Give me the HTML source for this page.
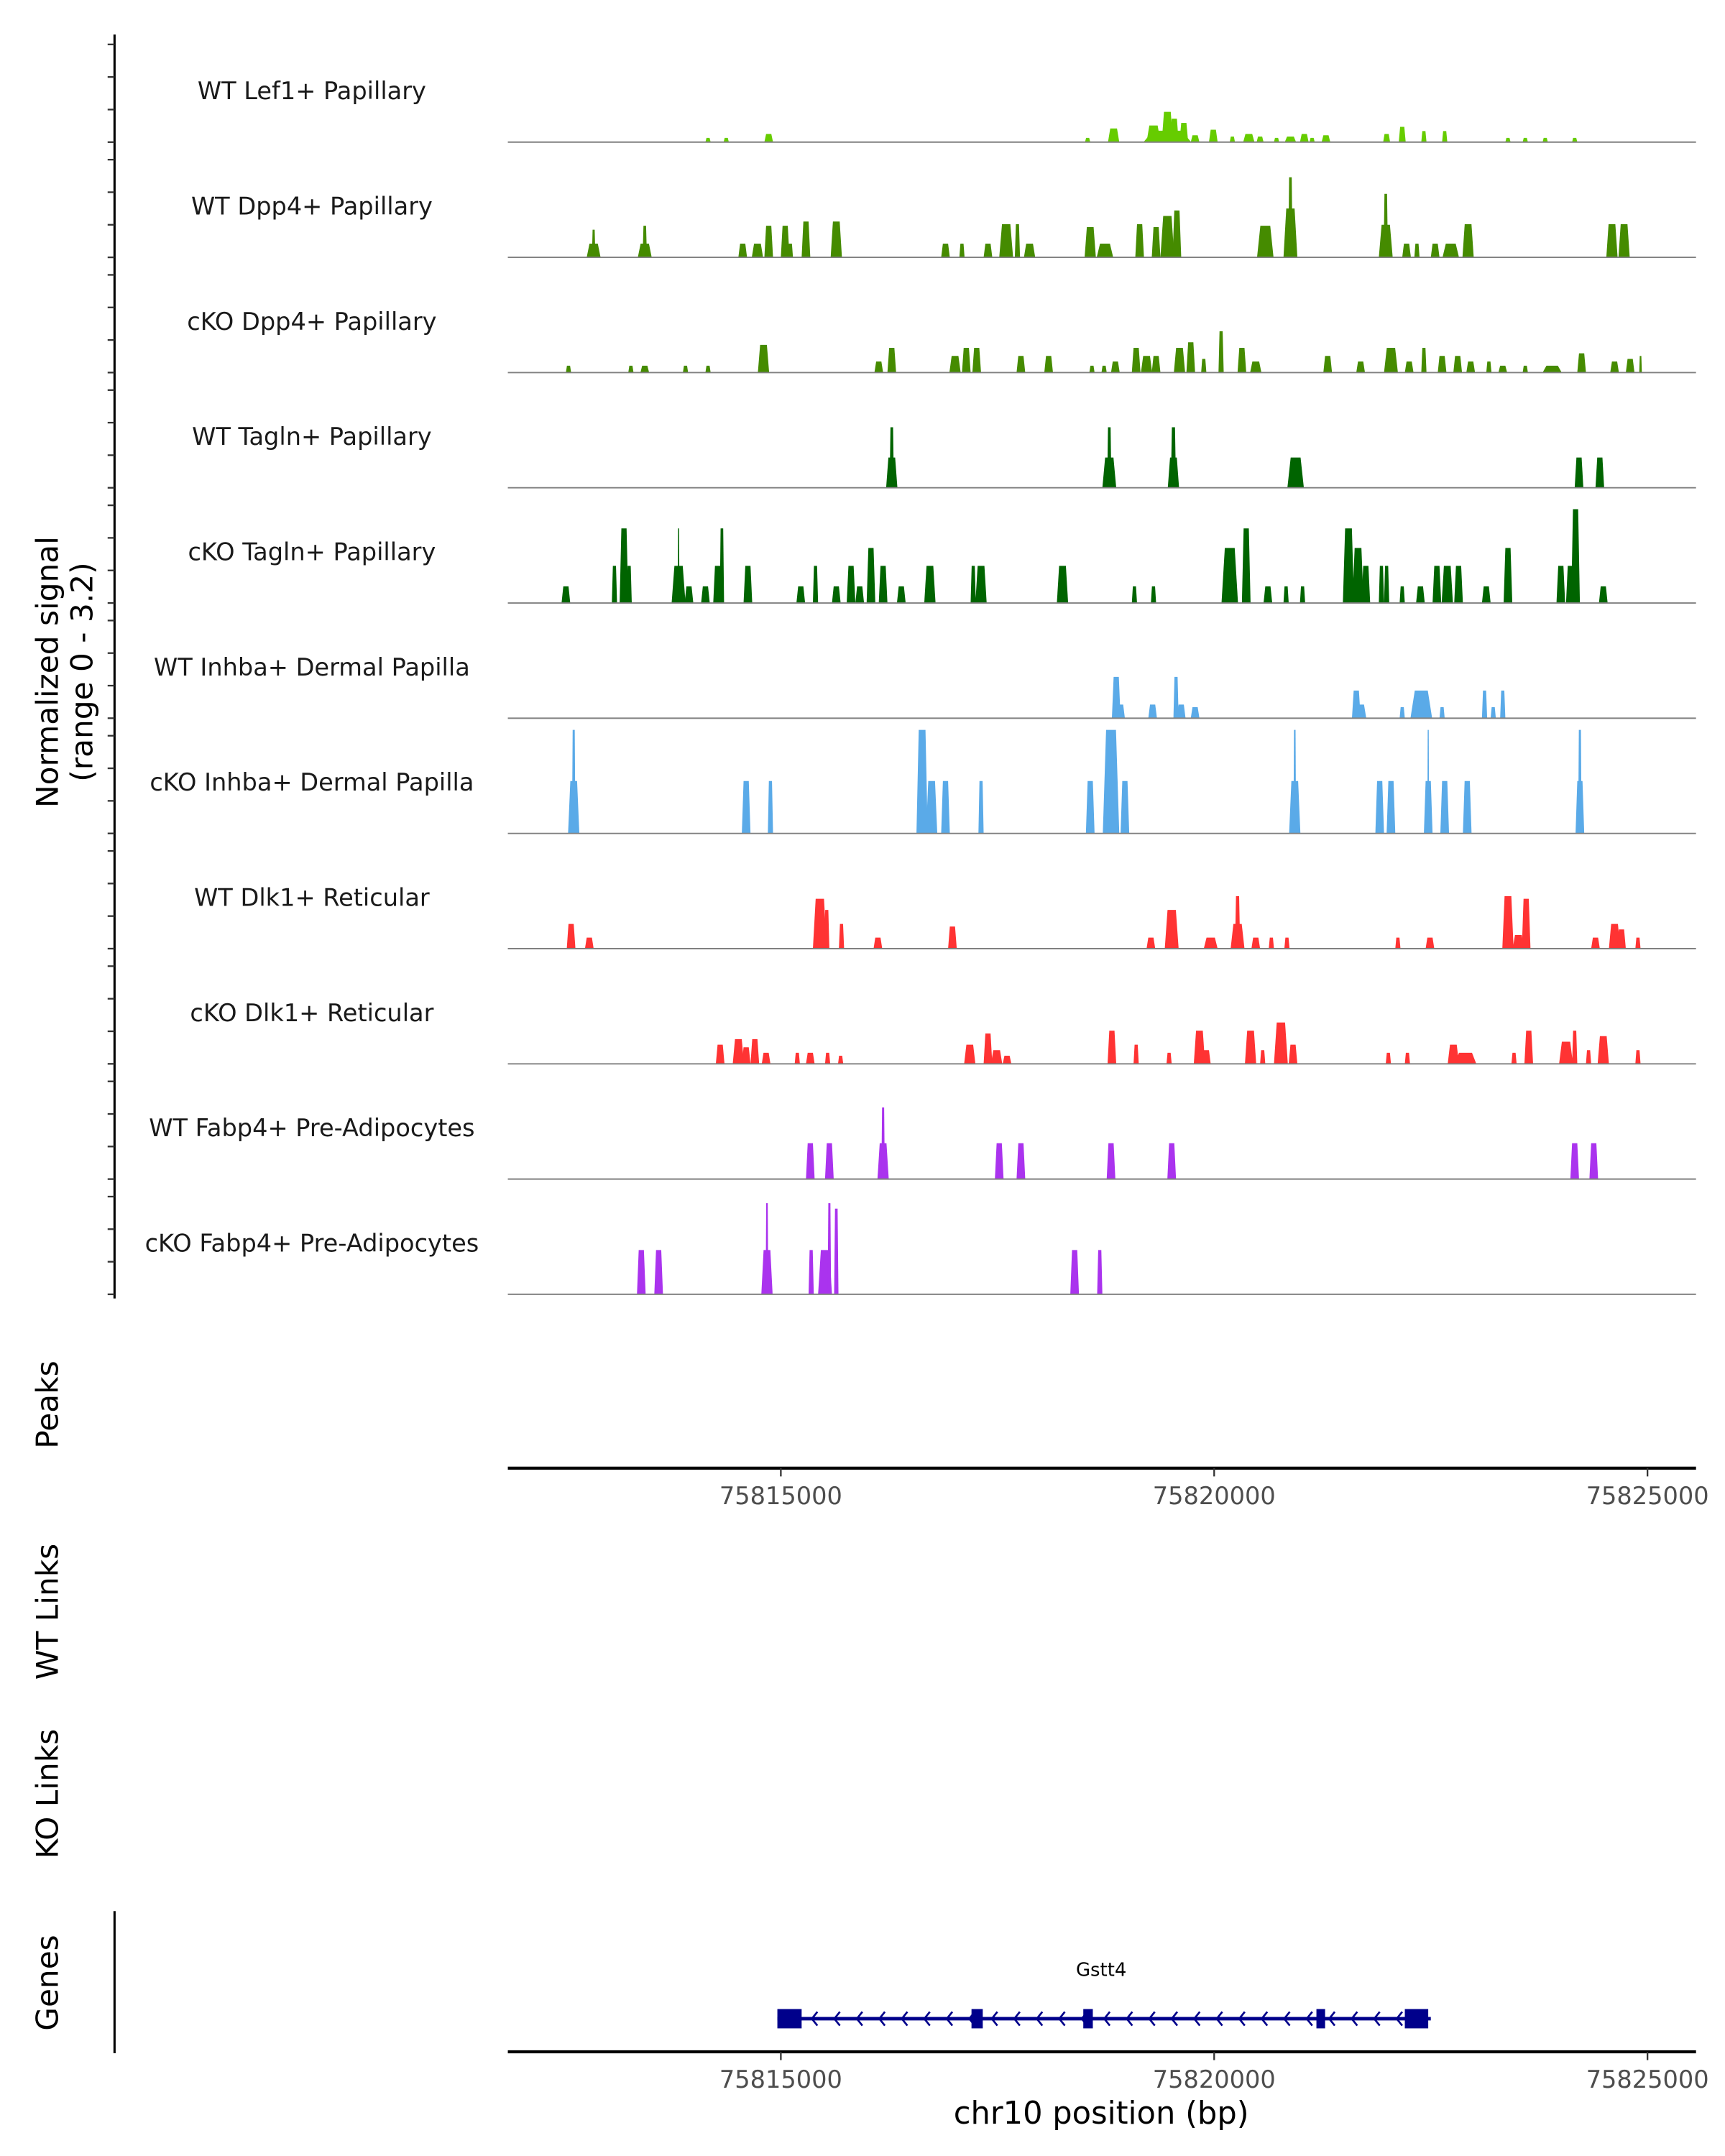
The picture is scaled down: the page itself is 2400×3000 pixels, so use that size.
<!DOCTYPE html>
<html><head><meta charset="utf-8"><style>
html,body{margin:0;padding:0;background:#fff;}
svg{display:block;font-family:"DejaVu Sans","Liberation Sans",sans-serif;}
</style></head><body>
<svg id="chart" width="2400" height="3000" viewBox="0 0 1250 1562.5" xmlns="http://www.w3.org/2000/svg"></svg>
<script>
const xDomain=[75811.85,75825.56];
const xTicks=[75815,75820,75825];
const xTickLabels=["75815000","75820000","75825000"];
const trackNames=["WT Lef1+ Papillary","WT Dpp4+ Papillary","cKO Dpp4+ Papillary","WT Tagln+ Papillary","cKO Tagln+ Papillary","WT Inhba+ Dermal Papilla","cKO Inhba+ Dermal Papilla","WT Dlk1+ Reticular","cKO Dlk1+ Reticular","WT Fabp4+ Pre-Adipocytes","cKO Fabp4+ Pre-Adipocytes"];
const trackColors=["#66cc00","#458b00","#458b00","#006400","#006400","#5aaae8","#5aaae8","#ff3333","#ff3333","#aa33ee","#aa33ee"];
// peaks: [center kb, width kb, normalized signal]
const lef1WT=[[75814.16,.06,.13],[75814.37,.06,.13],[75814.86,.1,.25],[75818.54,.06,.13],[75818.84,.13,.42],[75819.46,.55,.35],[75819.30,.16,.51],[75819.46,.13,.93],[75819.54,.1,.72],[75819.65,.1,.59],[75819.78,.1,.21],[75819.99,.1,.38],[75820.21,.06,.17],[75820.40,.13,.25],[75820.53,.08,.17],[75820.72,.06,.13],[75820.88,.13,.17],[75821.04,.1,.25],[75821.13,.06,.13],[75821.29,.1,.21],[75821.99,.08,.25],[75822.17,.08,.47],[75822.42,.06,.34],[75822.66,.06,.34],[75823.39,.06,.13],[75823.59,.06,.13],[75823.82,.06,.13],[75824.16,.06,.13]];
const dpp4WT=[[75812.84,.16,.42],[75812.84,.04,.85],[75813.43,.16,.42],[75813.43,.05,.97],[75814.56,.1,.42],[75814.73,.13,.42],[75814.86,.1,.97],[75815.05,.1,.97],[75815.11,.06,.42],[75815.29,.1,1.1],[75815.64,.13,1.1],[75816.90,.1,.42],[75817.09,.06,.42],[75817.39,.1,.42],[75817.60,.16,1.02],[75817.73,.06,1.02],[75817.87,.13,.42],[75818.57,.13,.93],[75818.74,.19,.42],[75819.14,.1,1.02],[75819.33,.1,.93],[75819.46,.16,1.27],[75819.57,.1,1.44],[75820.59,.19,.97],[75820.88,.16,1.5],[75820.88,.05,2.46],[75821.98,.16,1.0],[75821.98,.05,1.95],[75822.22,.1,.42],[75822.34,.06,.42],[75822.55,.1,.42],[75822.73,.19,.42],[75822.93,.13,1.02],[75824.59,.13,1.02],[75824.73,.13,1.02]];
const dpp4KO=[[75812.55,.06,.21],[75813.27,.06,.21],[75813.43,.1,.21],[75813.90,.06,.21],[75814.16,.06,.21],[75814.80,.13,.85],[75816.13,.1,.34],[75816.28,.1,.76],[75817.01,.13,.51],[75817.14,.1,.76],[75817.26,.1,.76],[75817.77,.1,.51],[75818.09,.1,.51],[75818.59,.06,.21],[75818.73,.06,.21],[75818.86,.1,.34],[75819.10,.1,.76],[75819.22,.13,.51],[75819.33,.1,.51],[75819.60,.13,.76],[75819.73,.1,.93],[75819.88,.06,.42],[75820.08,.06,1.27],[75820.32,.1,.76],[75820.48,.13,.34],[75821.31,.1,.51],[75821.69,.1,.34],[75822.04,.16,.76],[75822.25,.1,.34],[75822.42,.06,.76],[75822.63,.1,.51],[75822.81,.1,.51],[75822.96,.1,.34],[75823.17,.06,.34],[75823.33,.1,.21],[75823.59,.06,.21],[75823.90,.22,.21],[75824.24,.1,.59],[75824.62,.1,.34],[75824.80,.1,.42],[75824.92,.03,.51]];
const taglnWT=[[75816.28,.13,.93],[75816.28,.05,1.86],[75818.79,.16,.93],[75818.79,.05,1.86],[75819.53,.13,.93],[75819.53,.06,1.86],[75820.94,.19,.93],[75824.21,.1,.93],[75824.45,.1,.93]];
const taglnKO=[[75812.52,.1,.51],[75813.08,.06,1.14],[75813.19,.1,2.29],[75813.25,.06,1.14],[75813.82,.16,1.14],[75813.82,.02,2.29],[75813.94,.1,.51],[75814.13,.1,.51],[75814.27,.1,1.14],[75814.32,.05,2.29],[75814.62,.1,1.14],[75815.23,.1,.51],[75815.40,.06,1.14],[75815.64,.1,.51],[75815.81,.1,1.14],[75815.91,.1,.51],[75816.04,.1,1.69],[75816.18,.1,1.14],[75816.39,.1,.51],[75816.72,.13,1.14],[75817.22,.06,1.14],[75817.31,.13,1.14],[75818.25,.13,1.14],[75819.08,.06,.51],[75819.30,.06,.51],[75820.18,.19,1.69],[75820.37,.1,2.29],[75820.62,.1,.51],[75820.83,.06,.51],[75821.02,.06,.51],[75821.55,.13,2.29],[75821.66,.13,1.69],[75821.75,.1,1.14],[75821.93,.06,1.14],[75821.99,.06,1.14],[75822.17,.06,.51],[75822.38,.1,.51],[75822.57,.1,1.14],[75822.69,.13,1.14],[75822.82,.1,1.14],[75823.14,.1,.51],[75823.39,.1,1.69],[75824.00,.1,1.14],[75824.11,.1,1.14],[75824.17,.1,2.88],[75824.49,.1,.51]];
const inhbaWT=[[75818.87,.1,1.27],[75818.92,.1,.42],[75819.29,.1,.42],[75819.56,.06,1.27],[75819.62,.1,.42],[75819.78,.1,.34],[75821.64,.1,.85],[75821.69,.13,.42],[75822.17,.06,.34],[75822.39,.25,.85],[75822.63,.06,.34],[75823.12,.06,.85],[75823.22,.06,.34],[75823.33,.06,.85]];
const inhbaKO=[[75812.61,.13,1.61],[75812.61,.04,3.18],[75814.60,.1,1.61],[75814.88,.06,1.61],[75816.63,.13,3.18],[75816.74,.13,1.61],[75816.90,.1,1.61],[75817.31,.06,1.61],[75818.57,.1,1.61],[75818.81,.19,3.18],[75818.97,.1,1.61],[75820.93,.13,1.61],[75820.93,.03,3.18],[75821.91,.1,1.61],[75822.04,.1,1.61],[75822.47,.1,1.61],[75822.47,.02,3.18],[75822.66,.1,1.61],[75822.92,.1,1.61],[75824.22,.1,1.61],[75824.22,.04,3.18]];
const dlk1WT=[[75812.58,.1,.76],[75812.79,.1,.34],[75815.45,.16,1.53],[75815.53,.06,1.19],[75815.70,.06,.76],[75816.12,.1,.34],[75816.98,.1,.68],[75819.27,.1,.34],[75819.51,.16,1.19],[75819.96,.16,.34],[75820.27,.16,.76],[75820.27,.06,1.61],[75820.48,.1,.34],[75820.66,.06,.34],[75820.84,.06,.34],[75822.12,.06,.34],[75822.49,.1,.34],[75823.39,.13,1.61],[75823.51,.13,.42],[75823.60,.1,1.53],[75824.40,.1,.34],[75824.62,.13,.76],[75824.70,.1,.59],[75824.89,.06,.34]];
const dlk1KO=[[75814.30,.1,.59],[75814.51,.13,.76],[75814.60,.1,.51],[75814.70,.1,.76],[75814.83,.1,.34],[75815.19,.06,.34],[75815.34,.1,.34],[75815.54,.06,.34],[75815.69,.06,.25],[75817.18,.13,.59],[75817.39,.1,.93],[75817.49,.13,.42],[75817.61,.1,.25],[75818.82,.1,1.02],[75819.10,.06,.59],[75819.48,.06,.34],[75819.83,.13,1.02],[75819.91,.1,.42],[75820.42,.13,1.02],[75820.56,.06,.42],[75820.77,.16,1.27],[75820.91,.1,.59],[75822.01,.06,.34],[75822.23,.06,.34],[75822.76,.13,.59],[75822.90,.25,.34],[75823.46,.06,.34],[75823.63,.1,1.02],[75824.06,.16,.68],[75824.16,.06,1.02],[75824.32,.06,.42],[75824.49,.13,.85],[75824.89,.06,.42]];
const fabp4WT=[[75815.34,.1,1.1],[75815.56,.1,1.1],[75816.18,.13,1.1],[75816.18,.04,2.2],[75817.52,.1,1.1],[75817.77,.1,1.1],[75818.81,.1,1.1],[75819.51,.1,1.1],[75824.16,.1,1.1],[75824.38,.1,1.1]];
const fabp4KO=[[75813.39,.1,1.36],[75813.59,.1,1.36],[75814.84,.13,1.36],[75814.84,.03,2.8],[75815.35,.06,1.36],[75815.51,.16,1.36],[75815.56,.04,2.8],[75815.64,.05,2.63],[75818.39,.1,1.36],[75818.68,.06,1.36]];
const trackData=[lef1WT,dpp4WT,dpp4KO,taglnWT,taglnKO,inhbaWT,inhbaKO,dlk1WT,dlk1KO,fabp4WT,fabp4KO];
const geneSpan=[75814.96,75822.50];
const geneExons=[[75814.96,75815.24],[75817.20,75817.33],[75818.49,75818.60],[75821.18,75821.28],[75822.20,75822.47]];

const NS="http://www.w3.org/2000/svg";
const svg=document.getElementById('chart');
const X0=368,X1=1229;
const xs=v=>X0+(v-xDomain[0])/(xDomain[1]-xDomain[0])*(X1-X0);
const firstBase=103,trackStep=83.5,unitPx=23.6;
const ys=(i,v)=>firstBase+i*trackStep-v*unitPx;
function mk(tag,attrs,parent){const e=document.createElementNS(NS,tag);for(const k in attrs)e.setAttribute(k,attrs[k]);(parent||svg).appendChild(e);return e;}

const ax=mk('line',{x1:83,y1:25,x2:83,y2:941,stroke:'#000','stroke-width':1.6});


for(let i=0;i<trackNames.length;i++){
  for(let t=0;t<4;t++){
    const tk=mk('line',{x1:78,x2:83,y1:ys(i,t),y2:ys(i,t),stroke:'#333','stroke-width':1.2});
    
    
  }
}
function title(txt,x,y,size,name){
  const t=mk('text',{x:x,y:y,'font-size':size,fill:'#000','text-anchor':'middle',transform:`rotate(-90 ${x} ${y})`});
  t.textContent=txt;
  
  
}
title('Normalized signal',42,487,22,'y-axis-title');
title('(range 0 - 3.2)',67,487,22,'y-axis-range');
title('Peaks',42,1018,22,'peaks-title');
title('WT Links',42,1168,22,'wt-links-title');
title('KO Links',42,1300,22,'ko-links-title');
title('Genes',42,1437,22,'genes-title');

for(let i=0;i<trackNames.length;i++){
  const g=mk('g',{});
  
  
  const lb=mk('text',{x:226,y:ys(i,0)-31,'font-size':17.5,fill:'#1a1a1a','text-anchor':'middle'},g);
  lb.textContent=trackNames[i];
  
  
  trackData[i].forEach(p=>{
    const s=xs(p[0]-p[1]/2),e=xs(p[0]+p[1]/2),w=e-s,b=ys(i,0),h=ys(i,p[2]);
    const pg=mk('polygon',{points:`${s},${b} ${s+w*0.2},${h} ${e-w*0.2},${h} ${e},${b}`,fill:trackColors[i]},g);
    
    
  });
  const bl=mk('line',{x1:X0,x2:X1,y1:ys(i,0),y2:ys(i,0),stroke:'#808080','stroke-width':1},g);
  
  
}

function xAxis(y,name){
  const l=mk('line',{x1:X0,x2:X1,y1:y,y2:y,stroke:'#000','stroke-width':2.2});
  
  
  xTicks.forEach((v,k)=>{
    const t=mk('line',{x1:xs(v),x2:xs(v),y1:y,y2:y+6,stroke:'#333','stroke-width':1.2});
    
    
    const tl=mk('text',{x:xs(v),y:y+26,'font-size':17.5,fill:'#4d4d4d','text-anchor':'middle'});
    tl.textContent=xTickLabels[k];
    
    
  });
}
xAxis(1064,'peaks-x-axis');
xAxis(1487,'genes-x-axis');
const xt=mk('text',{x:798,y:1539,'font-size':22.5,fill:'#000','text-anchor':'middle'});
xt.textContent='chr10 position (bp)';



const gl=mk('line',{x1:83,y1:1385,x2:83,y2:1488,stroke:'#000','stroke-width':1.6});


const gy=1463;
const gg=mk('g',{});


mk('line',{x1:xs(geneSpan[0]),x2:xs(geneSpan[1]),y1:gy,y2:gy,stroke:'#00008b','stroke-width':2.5},gg);
for(let x=xs(geneSpan[0])+25;x<xs(geneSpan[1])-8;x+=16.3){
  mk('polyline',{points:`${x+4},${gy-5} ${x},${gy} ${x+4},${gy+5}`,fill:'none',stroke:'#00008b','stroke-width':1.4},gg);
}
geneExons.forEach(ex=>{
  const r=mk('rect',{x:xs(ex[0]),y:gy-7,width:xs(ex[1])-xs(ex[0]),height:14,fill:'#00008b'},gg);
  
  
});
const gn=mk('text',{x:798,y:1432,'font-size':13.5,fill:'#000','text-anchor':'middle'});
gn.textContent='Gstt4';


</script>
</body></html>
